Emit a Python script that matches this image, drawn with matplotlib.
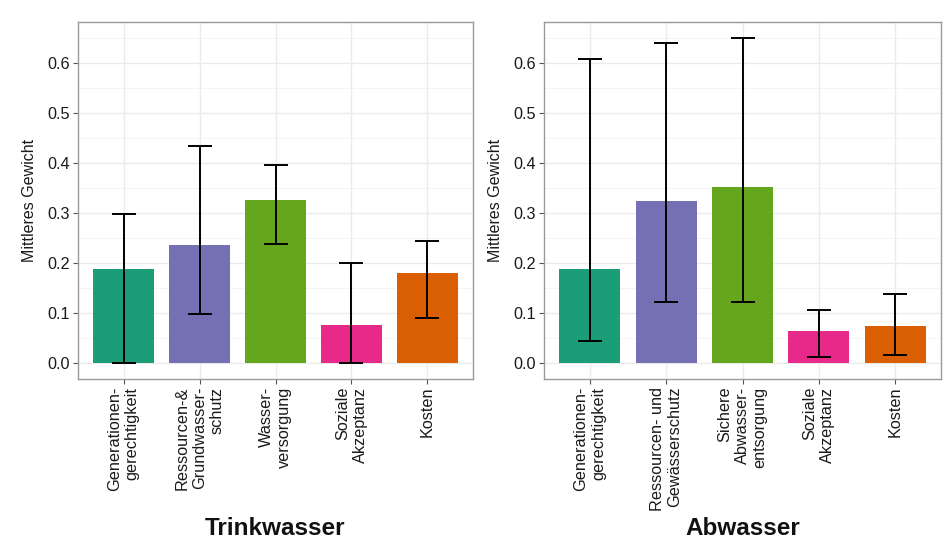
import matplotlib
matplotlib.use("Agg")
import matplotlib.pyplot as plt
import numpy as np

plt.rcParams['font.family'] = ['Liberation Sans', 'DejaVu Sans']

colors = ['#1B9E77', '#7570B3', '#66A61E', '#E7298A', '#D95F02']

# Trinkwasser
tw_labels = ['Generationen-\ngerechtigkeit', 'Ressourcen-&\nGrundwasser-\nschutz',
             'Wasser-\nversorgung', 'Soziale\nAkzeptanz', 'Kosten']
tw_mean = [0.187, 0.236, 0.327, 0.076, 0.179]
tw_low = [0.000, 0.098, 0.238, 0.000, 0.089]
tw_high = [0.297, 0.435, 0.396, 0.199, 0.243]

# Abwasser
aw_labels = ['Generationen-\ngerechtigkeit', 'Ressourcen- und\nGewässerschutz',
             'Sichere\nAbwasser-\nentsorgung', 'Soziale\nAkzeptanz', 'Kosten']
aw_mean = [0.187, 0.323, 0.353, 0.063, 0.073]
aw_low = [0.043, 0.121, 0.121, 0.012, 0.016]
aw_high = [0.608, 0.640, 0.651, 0.106, 0.137]

yticks = [0.0, 0.1, 0.2, 0.3, 0.4, 0.5, 0.6]
ytick_labels = ['0.0', '0.1', '0.2', '0.3', '0.4', '0.5', '0.6']

W, H = 953, 541
fig = plt.figure(figsize=(W / 100, H / 100), dpi=100)


def panel(rect_px, labels, mean, low, high, title):
    x0, y0, x1, y1 = rect_px
    ax = fig.add_axes([x0 / W, 1 - y1 / H, (x1 - x0) / W, (y1 - y0) / H])
    x = np.arange(1, len(labels) + 1)
    mean = np.array(mean)
    low = np.array(low)
    high = np.array(high)
    ax.set_axisbelow(True)
    ax.bar(x, mean, width=0.8, color=colors, zorder=2)
    ax.errorbar(x, mean, yerr=[mean - low, high - mean], fmt='none',
                ecolor='black', elinewidth=1.4, capsize=8.3, capthick=1.4, zorder=3)
    ax.set_xlim(0.4, len(labels) + 0.6)
    ax.set_ylim(-0.0325, 0.6825)
    ax.set_yticks(yticks)
    ax.set_yticklabels(ytick_labels)
    ax.set_yticks(np.arange(0.05, 0.7, 0.1), minor=True)
    ax.set_xticks(x)
    ax.set_xticklabels(labels, rotation=90, ha='center', va='top',
                       multialignment='right')
    ax.grid(True, which='major', color='#EBEBEB', linewidth=1.0)
    ax.grid(True, which='minor', axis='y', color='#F2F2F2', linewidth=0.6)
    ax.tick_params(axis='both', which='major', length=3.5, width=0.8,
                   color='#555555', labelsize=11.7, labelcolor='#1a1a1a', pad=2)
    ax.tick_params(axis='y', which='minor', length=0)
    for s in ax.spines.values():
        s.set_color('#9a9a9a')
        s.set_linewidth(1.0)
    ax.set_ylabel('Mittleres Gewicht', fontsize=11.5, color='#1a1a1a', labelpad=8)
    cx = (x0 + x1) / 2 / W
    fig.text(cx, 0.001, title, ha='center', va='bottom',
             fontsize=17.5, fontweight='bold', color='#111111')
    return ax


panel((78, 22, 473, 379), tw_labels, tw_mean, tw_low, tw_high, 'Trinkwasser')
panel((544, 22, 941, 379), aw_labels, aw_mean, aw_low, aw_high, 'Abwasser')

fig.savefig('out.png', dpi=100)
